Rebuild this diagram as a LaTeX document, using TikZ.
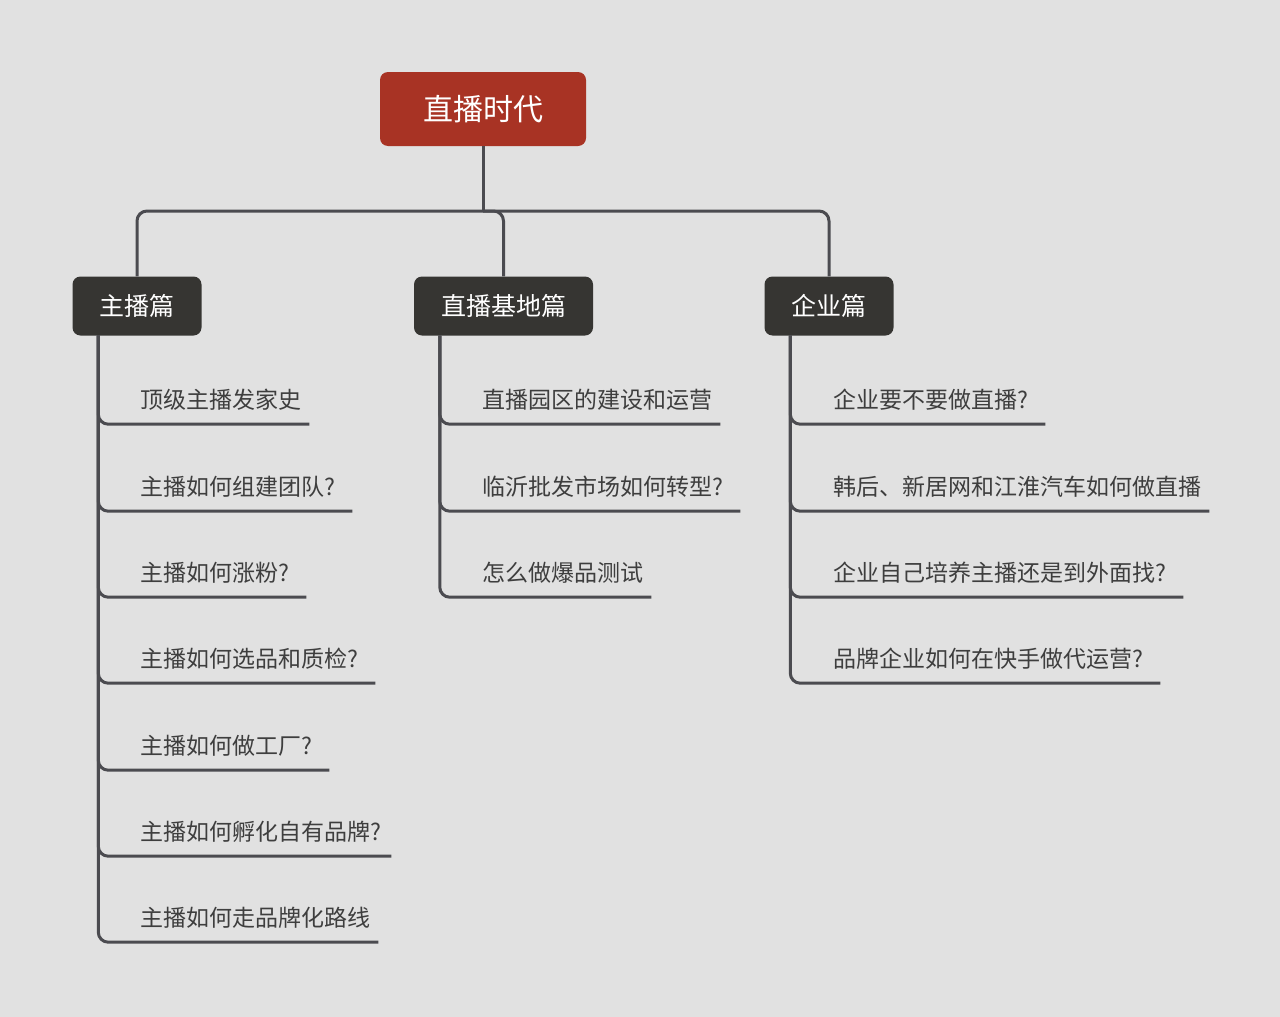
\documentclass[tikz,border=0pt]{standalone}
\usepackage{fontspec}
\setmainfont{Noto Sans CJK SC}

\definecolor{bgcol}{HTML}{E1E1E1}
\definecolor{rootcol}{HTML}{A83324}
\definecolor{catcol}{HTML}{363532}
\definecolor{linecol}{HTML}{4B4B50}
\definecolor{leafcol}{HTML}{3E3E3E}

\tikzset{
  rootbox/.style={fill=rootcol, text=white, rounded corners=8pt, minimum height=74pt,
    inner xsep=43pt, font=\fontsize{30}{30}\selectfont},
  catbox/.style={fill=catcol, text=white, rounded corners=8pt, minimum height=59pt,
    inner xsep=27pt, font=\fontsize{25}{25}\selectfont},
  leaf/.style={anchor=west, inner xsep=0pt, inner ysep=0pt, minimum height=48pt,
    text=leafcol, font=\fontsize{23}{23}\selectfont},
  branch/.style={draw=linecol, line width=3pt, rounded corners=10pt},
}

\begin{document}
\begin{tikzpicture}[x=1pt,y=-1pt]
  \fill[bgcol] (0,0) rectangle (1280,1017);
  \useasboundingbox (0,0) rectangle (1280,1017);

  % root and the three parts
  \node[rootbox] (root) at (483,109) {直播时代};
  \node[catbox] (zb) at (137,306) {主播篇};
  \node[catbox] (jd) at (503.5,306) {直播基地篇};
  \node[catbox] (qy) at (829,306) {企业篇};

  \coordinate (hub) at (483,211);
  \draw[branch] (root) -- (hub);
  \draw[branch] (hub) -| (zb);
  \draw[branch] (hub) -| (jd);
  \draw[branch] (hub) -| (qy);

  % 主播篇
  \node[leaf] (zb1) at (140,400) {顶级主播发家史};
  \node[leaf] (zb2) at (140,487) {主播如何组建团队?};
  \node[leaf] (zb3) at (140,573) {主播如何涨粉?};
  \node[leaf] (zb4) at (140,659) {主播如何选品和质检?};
  \node[leaf] (zb5) at (140,746) {主播如何做工厂?};
  \node[leaf] (zb6) at (140,832) {主播如何孵化自有品牌?};
  \node[leaf] (zb7) at (140,918) {主播如何走品牌化路线};

  \draw[branch] ([xshift=26pt]zb.south west) |- ([xshift=8pt]zb1.south east);
  \draw[branch] ([xshift=26pt]zb.south west) |- ([xshift=17pt]zb2.south east);
  \draw[branch] ([xshift=26pt]zb.south west) |- ([xshift=17pt]zb3.south east);
  \draw[branch] ([xshift=26pt]zb.south west) |- ([xshift=17pt]zb4.south east);
  \draw[branch] ([xshift=26pt]zb.south west) |- ([xshift=17pt]zb5.south east);
  \draw[branch] ([xshift=26pt]zb.south west) |- ([xshift=10pt]zb6.south east);
  \draw[branch] ([xshift=26pt]zb.south west) |- ([xshift=8pt]zb7.south east);

  % 直播基地篇
  \node[leaf] (jd1) at (482,400) {直播园区的建设和运营};
  \node[leaf] (jd2) at (482,487) {临沂批发市场如何转型?};
  \node[leaf] (jd3) at (482,573) {怎么做爆品测试};

  \draw[branch] ([xshift=26pt]jd.south west) |- ([xshift=8pt]jd1.south east);
  \draw[branch] ([xshift=26pt]jd.south west) |- ([xshift=17pt]jd2.south east);
  \draw[branch] ([xshift=26pt]jd.south west) |- ([xshift=8pt]jd3.south east);

  % 企业篇
  \node[leaf] (qy1) at (833,400) {企业要不要做直播?};
  \node[leaf] (qy2) at (833,487) {韩后、新居网和江淮汽车如何做直播};
  \node[leaf] (qy3) at (833,573) {企业自己培养主播还是到外面找?};
  \node[leaf] (qy4) at (833,659) {品牌企业如何在快手做代运营?};

  \draw[branch] ([xshift=26pt]qy.south west) |- ([xshift=17pt]qy1.south east);
  \draw[branch] ([xshift=26pt]qy.south west) |- ([xshift=8pt]qy2.south east);
  \draw[branch] ([xshift=26pt]qy.south west) |- ([xshift=17pt]qy3.south east);
  \draw[branch] ([xshift=26pt]qy.south west) |- ([xshift=17pt]qy4.south east);
\end{tikzpicture}
\end{document}
